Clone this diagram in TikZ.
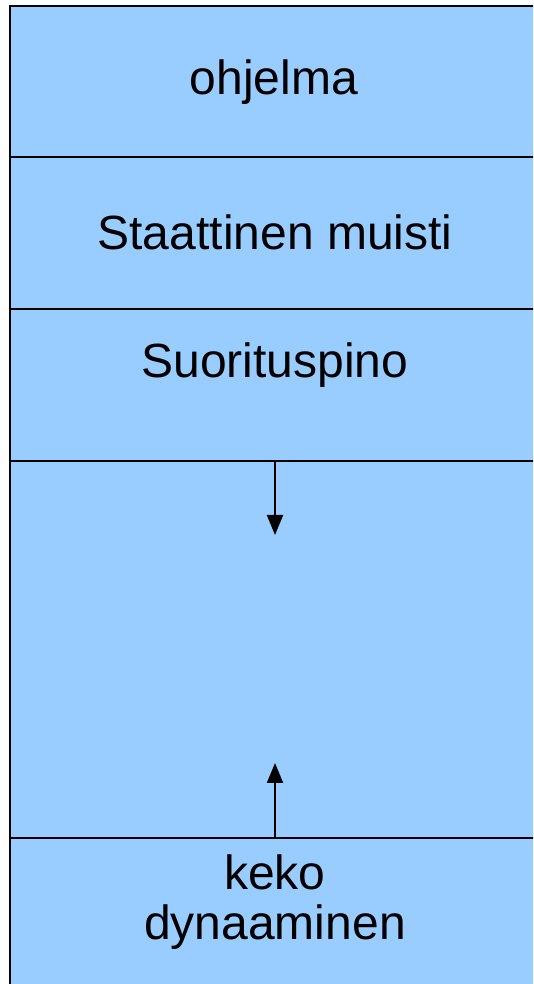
\documentclass[tikz,border=0pt]{standalone}
\usepackage{fontspec}
\setmainfont{Liberation Sans}
\usetikzlibrary{arrows.meta}
\definecolor{memblue}{HTML}{99CCFF}
\tikzset{
  band/.style={line width=2pt, draw=black},
  lbl/.style={font=\fontsize{48}{50}\selectfont, inner sep=0pt, anchor=base},
  growarrow/.style={line width=2pt, -{Triangle[width=16pt,length=20pt]}}
}
\begin{document}
\begin{tikzpicture}[x=1pt,y=1pt]
\useasboundingbox (0,0) rectangle (533,984);
\clip (0,0) rectangle (533,984);
\fill[white] (0,0) rectangle (533,984);
\draw[band, fill=memblue] (10,-20) rectangle (560,978);
\coordinate (l1w) at (10,827); \coordinate (l1e) at (560,827);
\coordinate (l2w) at (10,675); \coordinate (l2e) at (560,675);
\coordinate (l3w) at (10,523); \coordinate (l3e) at (560,523);
\coordinate (l4w) at (10,146); \coordinate (l4e) at (560,146);
\draw[band] (l1w) -- (l1e);
\draw[band] (l2w) -- (l2e);
\draw[band] (l3w) -- (l3e);
\draw[band] (l4w) -- (l4e);
\node[lbl] (ohjelma) at (274,889) {ohjelma};
\node[lbl] (staattinen) at (275,734) {Staattinen muisti};
\node[lbl] (pino) at (275,606) {Suorituspino};
\node[lbl] (keko) at (275,94) {keko};
\node[lbl] (dyn) at (275,44) {dynaaminen};
\coordinate (pinotop) at (275,523);
\coordinate (pinotip) at (275,449);
\coordinate (kekotop) at (275,146);
\coordinate (kekotip) at (275,221);
\draw[growarrow] (pinotop) -- (pinotip);
\draw[growarrow] (kekotop) -- (kekotip);
\end{tikzpicture}
\end{document}
